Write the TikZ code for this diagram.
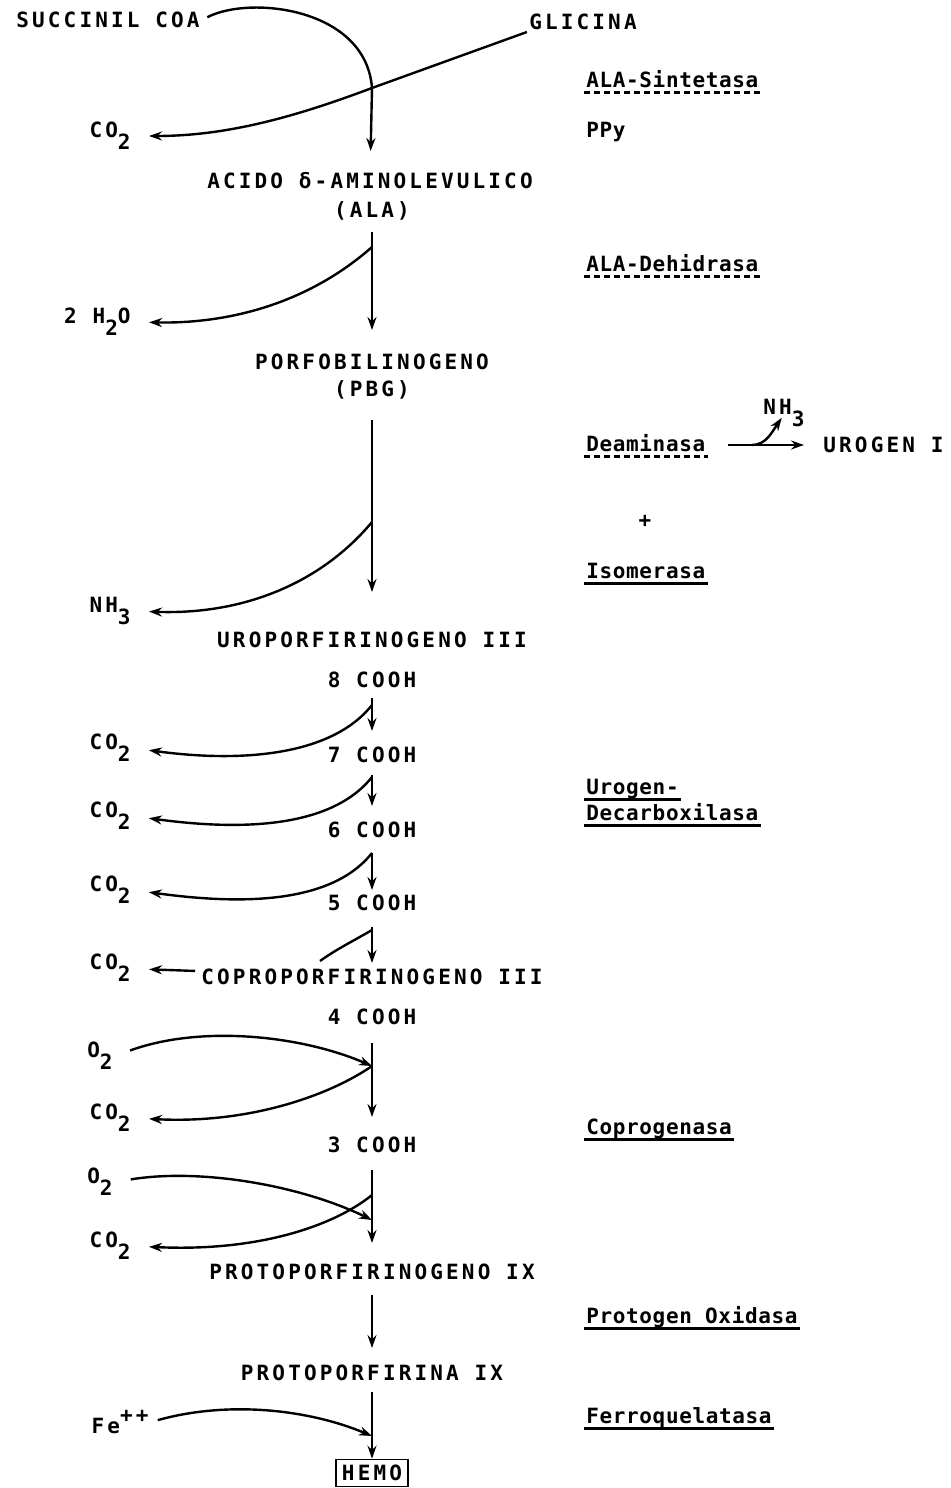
\documentclass[tikz,border=0pt]{standalone}
\usepackage{fontspec}
\usetikzlibrary{arrows.meta}
\newfontfamily\maqfam[LetterSpace=15]{DejaVu Sans Mono}
\newfontfamily\enzfam[LetterSpace=3]{DejaVu Sans Mono}
\newcommand\maq{\maqfam\bfseries\fontsize{10.5}{12}\selectfont}
\newcommand\enzf{\enzfam\bfseries\fontsize{10.5}{12}\selectfont}
\newcommand\bajo[1]{\raisebox{-6pt}{#1}}
\newcommand\alto[1]{\raisebox{5.5pt}{#1}}

\begin{document}
\begin{tikzpicture}[x=0.5pt,y=-0.5pt,
    met/.style={font=\maq,inner sep=1pt,text height=7.6pt,text depth=0pt},
    enz/.style={font=\enzf,anchor=west,inner sep=1pt,text height=7.6pt,text depth=1.5pt},
    lat/.style={font=\maq,inner sep=1pt,anchor=east},
    caja/.style={met,draw,line width=0.7pt,inner sep=3pt},
    subr/.style={line width=1.2pt},
    subrp/.style={subr,densely dashed},
    flecha/.style={-{Stealth[length=6.5pt,width=4.5pt]},line width=1.2pt},
    salida/.style={flecha,shorten >=8pt},
    entrada/.style={flecha,shorten <=8pt}]
    \useasboundingbox (0,0) rectangle (950,1488);

    % metabolitos
    \node[met] (succ) at (108,20) {SUCCINIL COA};
    \node[met] (glic) at (583,22) {GLICINA};
    \node[met] (acido) at (370,181) {ACIDO δ-AMINOLEVULICO};
    \node[met] (alab) at (372,210) {(ALA)};
    \node[met] (pbg1) at (372,362) {PORFOBILINOGENO};
    \node[met] (pbg2) at (372,389) {(PBG)};
    \node[met] (uro) at (372,640) {UROPORFIRINOGENO III};
    \node[met] (c8) at (372,680) {8 COOH};
    \node[met] (c7) at (372,755) {7 COOH};
    \node[met] (c6) at (372,830) {6 COOH};
    \node[met] (c5) at (372,903) {5 COOH};
    \node[met] (copro) at (372,977) {COPROPORFIRINOGENO III};
    \node[met] (c4) at (372,1017) {4 COOH};
    \node[met] (c3) at (372,1145) {3 COOH};
    \node[met] (protogeno) at (372,1272) {PROTOPORFIRINOGENO IX};
    \node[met] (protoporf) at (372,1373) {PROTOPORFIRINA IX};
    \node[caja] (hemo) at (372,1473) {HEMO};
    \node[met,anchor=west] (urogI) at (821,445) {UROGEN I};

    % productos laterales
    \node[lat] (co2a) at (133,136) {CO\bajo{2}};
    \node[lat] (h2o) at (133,322) {2 H\bajo{2}O};
    \node[lat] (nh3a) at (133,611) {NH\bajo{3}};
    \node[lat] (co2b) at (133,748) {CO\bajo{2}};
    \node[lat] (co2c) at (133,816) {CO\bajo{2}};
    \node[lat] (co2d) at (133,890) {CO\bajo{2}};
    \node[lat] (co2e) at (133,968) {CO\bajo{2}};
    \node[lat] (o2a) at (115,1056) {O\bajo{2}};
    \node[lat] (co2f) at (133,1118) {CO\bajo{2}};
    \node[lat] (o2b) at (115,1182) {O\bajo{2}};
    \node[lat] (co2g) at (133,1246) {CO\bajo{2}};
    \node[lat] (fe) at (151,1422) {Fe\alto{++}};
    \node[lat,anchor=center] (nh3b) at (784,413) {NH\bajo{3}};

    % enzimas
    \node[enz] (sint) at (584,81) {ALA-Sintetasa};
    \node[enz] (ppy) at (584,131) {PPy};
    \node[enz] (dehi) at (584,265) {ALA-Dehidrasa};
    \node[enz] (deam) at (584,445) {Deaminasa};
    \node[met] (mas) at (645,520) {+};
    \node[enz] (isom) at (584,572) {Isomerasa};
    \node[enz] (deca1) at (584,788) {Urogen-};
    \node[enz] (deca2) at (584,814) {Decarboxilasa};
    \node[enz] (copg) at (584,1128) {Coprogenasa};
    \node[enz] (prox) at (584,1317) {Protogen Oxidasa};
    \node[enz] (ferr) at (584,1417) {Ferroquelatasa};
    \foreach \n in {sint,dehi,deam}
        \draw[subrp] (\n.south west) -- (\n.south east);
    \foreach \n in {isom,deca1,deca2,copg,prox,ferr}
        \draw[subr] (\n.south west) -- (\n.south east);

    % puntos sobre el eje
    \coordinate (j0) at (372,88);
    \coordinate (j1) at (372,247);
    \coordinate (j2) at (372,522);
    \coordinate (j3) at (372,705);
    \coordinate (j4) at (372,777);
    \coordinate (j5) at (372,853);
    \coordinate (j6) at (372,930);
    \coordinate (e6) at (320,961);
    \coordinate (j7) at (372,1066);
    \coordinate (j9) at (372,1195);
    \coordinate (j8) at (372,1220);
    \coordinate (j10) at (372,1436);
    \coordinate (d0) at (752,445);

    % ALA
    \draw[flecha,shorten <=3pt,shorten >=10pt] (succ.east) .. controls (250,-5) and (366,8) .. (j0) -- (acido);
    \draw[salida] (glic.south west) -- (j0) .. controls (300,115) and (230,136) .. (co2a.east);

    % PBG
    \draw[flecha,shorten <=6pt,shorten >=11pt] (alab) -- (pbg1);
    \draw[salida] (j1) .. controls (312,300) and (235,324) .. (h2o.east);

    % uroporfirinogeno
    \draw[flecha,shorten <=10.5pt,shorten >=19pt] (pbg2) -- (uro);
    \draw[salida] (j2) .. controls (322,582) and (245,615) .. (nh3a.east);
    \draw[flecha,shorten <=10pt,shorten >=8.5pt] (deam) -- (urogI);
    \draw[flecha,shorten >=2pt] (d0) .. controls (766,445) and (772,432) .. (nh3b.base);

    % decarboxilaciones
    \draw[flecha,shorten <=4pt,shorten >=7pt] (c8) -- (c7);
    \draw[salida] (j3) .. controls (330,758) and (235,762) .. (co2b.east);
    \draw[flecha,shorten <=5pt,shorten >=7pt] (c7) -- (c6);
    \draw[salida] (j4) .. controls (330,830) and (235,830) .. (co2c.east);
    \draw[flecha,shorten <=6.5pt,shorten >=1.5pt] (c6) -- (c5);
    \draw[salida] (j5) .. controls (330,906) and (235,904) .. (co2d.east);
    \draw[flecha,shorten <=7pt,shorten >=2pt] (c5) -- (copro);
    \draw[line width=1.2pt] (j6) .. controls (355,940) and (335,950) .. (e6);
    \draw[salida,shorten <=2pt] (copro) -- (co2e);

    % coprogenasa
    \draw[flecha,shorten <=8pt,shorten >=9pt] (c4) -- (c3);
    \draw[entrada] (o2a.east) .. controls (200,1025) and (300,1035) .. (j7);
    \draw[salida] (j7) .. controls (330,1095) and (250,1124) .. (co2f.east);
    \draw[flecha,shorten <=7.5pt,shorten >=9.5pt] (c3) -- (protogeno);
    \draw[entrada] (o2b.east) .. controls (200,1168) and (300,1185) .. (j8);
    \draw[salida] (j9) .. controls (335,1225) and (260,1252) .. (co2g.east);

    % hemo
    \draw[flecha,shorten <=6.5pt,shorten >=7.5pt] (protogeno) -- (protoporf);
    \draw[flecha,shorten <=4.5pt] (protoporf) -- (hemo);
    \draw[entrada,shorten <=3.5pt] (fe.east) .. controls (230,1400) and (310,1410) .. (j10);
\end{tikzpicture}
\end{document}
